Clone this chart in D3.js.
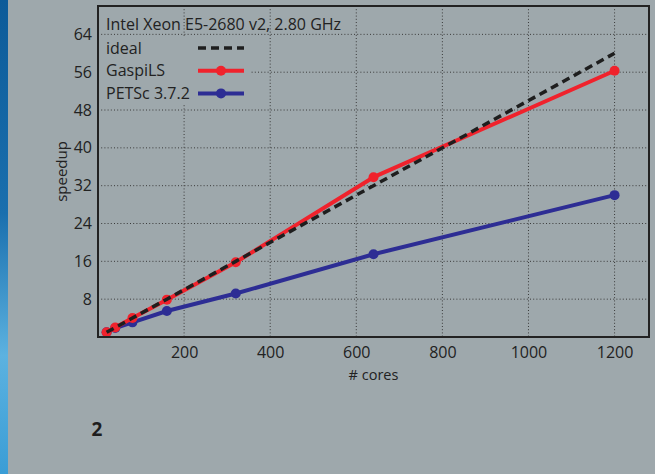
<!DOCTYPE html>
<html lang="en">
<head>
  <meta charset="utf-8">
  <title>speedup</title>
  <style>
    body { margin: 0; background: #9ea8ac; }
    svg { display: block; font-family: "Open Sans", sans-serif; }
  </style>
</head>
<body>
  <svg class="canvas" width="655" height="474"></svg>

  <script src="https://d3js.org/d3.v7.min.js"></script>
  <script>

// data
let cores = [20, 40, 80, 160, 320, 640, 1200]
let ideal = [1, 2, 4, 8, 16, 32, 60]
let gaspi = [1, 2, 4, 7.9, 15.8, 33.8, 56.3]
let petsc = [1, 1.9, 3.1, 5.5, 9.2, 17.5, 30]

let xTicks = [200, 400, 600, 800, 1000, 1200]
let yTicks = [8, 16, 24, 32, 40, 48, 56, 64]

let series = [
  {name: "ideal", values: ideal, color: "#1e1e1e", dash: "8,5", dots: false},
  {name: "GaspiLS", values: gaspi, color: "#f0222c", dash: null, dots: true},
  {name: "PETSc 3.7.2", values: petsc, color: "#2d2d94", dash: null, dots: true}
]

let bg = "#9ea8ac"
let ink = "#222"

let svg = d3.select(".canvas")

// blue strip on the left
let defs = svg.append("defs")
let grad = defs.append("linearGradient").attr("id", "strip")
  .attr("x1", 0).attr("y1", 0).attr("x2", 0).attr("y2", 1)
grad.append("stop").attr("offset", "0%").attr("stop-color", "#0d5b99")
grad.append("stop").attr("offset", "45%").attr("stop-color", "#1a6fae")
grad.append("stop").attr("offset", "75%").attr("stop-color", "#5cb2e0")
grad.append("stop").attr("offset", "100%").attr("stop-color", "#3a9dd6")
svg.append("rect").attr("x", 0).attr("y", 0).attr("width", 8).attr("height", 474)
  .attr("fill", "url(#strip)")

let m = {left: 98, top: 6, right: 649, bottom: 337}

let x = d3.scaleLinear().domain([0, 1280]).range([m.left, m.right])
let y = d3.scaleLinear().domain([0, 70]).range([m.bottom, m.top])

// grid
let grid = svg.append("g")
grid.selectAll("line.v").data(xTicks).enter().append("line")
  .attr("x1", d => x(d)).attr("x2", d => x(d))
  .attr("y1", m.top).attr("y2", m.bottom)
grid.selectAll("line.h").data(yTicks).enter().append("line")
  .attr("x1", m.left).attr("x2", m.right)
  .attr("y1", d => y(d)).attr("y2", d => y(d))
grid.selectAll("line")
  .attr("stroke", "#3a3a3a").attr("stroke-width", 1).attr("stroke-dasharray", "1,2.2")

// axes (labels only, frame drawn separately)
svg.append("g").attr("transform", "translate(0," + m.bottom + ")")
  .call(d3.axisBottom(x).tickValues(xTicks).tickFormat(d3.format("d")).tickSize(0).tickPadding(10))
svg.append("g").attr("transform", "translate(" + m.left + ",0)")
  .call(d3.axisLeft(y).tickValues(yTicks).tickSize(0).tickPadding(6))
svg.selectAll(".domain").remove()
svg.selectAll(".tick text").attr("font-size", 16).attr("fill", ink)
  .attr("font-family", "Open Sans, sans-serif")

svg.append("text")
  .attr("x", (m.left + m.right) / 2).attr("y", 380)
  .attr("text-anchor", "middle").attr("font-size", 14.5).attr("fill", ink)
  .text("# cores")

svg.append("text")
  .attr("transform", "translate(67," + ((m.top + m.bottom) / 2) + ") rotate(-90)")
  .attr("text-anchor", "middle").attr("font-size", 15).attr("fill", ink)
  .text("speedup")

// legend background hides the grid behind the entries
svg.append("rect").attr("x", m.left + 1).attr("y", 37)
  .attr("width", 152).attr("height", 68).attr("fill", bg)

// lines
let line = d3.line()
  .x((d, i) => x(cores[i]))
  .y(d => y(d))

let plot = svg.append("g")
series.slice().reverse().forEach(function(s) {
  plot.append("path")
    .attr("d", line(s.values))
    .attr("fill", "none")
    .attr("stroke", s.color)
    .attr("stroke-width", s.dots ? 4 : 3.5)
    .attr("stroke-dasharray", s.dash)
    .attr("stroke-linejoin", "round")
  if (s.dots) {
    plot.selectAll(null).data(s.values).enter().append("circle")
      .attr("cx", (d, i) => x(cores[i]))
      .attr("cy", d => y(d))
      .attr("r", 5)
      .attr("fill", s.color)
  }
})

// frame
svg.append("rect")
  .attr("x", m.left).attr("y", m.top)
  .attr("width", m.right - m.left).attr("height", m.bottom - m.top)
  .attr("fill", "none").attr("stroke", ink).attr("stroke-width", 2)

// legend
let leg = svg.append("g")
leg.append("text").attr("x", 106).attr("y", 30)
  .attr("font-size", 16).attr("fill", ink)
  .text("Intel Xeon E5-2680 v2, 2.80 GHz")

let rows = leg.selectAll("g.row").data(series).enter().append("g")
  .attr("transform", (d, i) => "translate(0," + (48 + i * 22.7) + ")")
rows.append("text").attr("x", 106).attr("dy", "0.35em")
  .attr("font-size", 16).attr("fill", ink)
  .text(d => d.name)
rows.append("line").attr("x1", 198).attr("x2", 244)
  .attr("stroke", d => d.color)
  .attr("stroke-width", d => d.dots ? 4 : 3.5)
  .attr("stroke-dasharray", d => d.dash)
rows.filter(d => d.dots).append("circle")
  .attr("cx", 221).attr("r", 5).attr("fill", d => d.color)

// panel number
svg.append("text").attr("x", 97).attr("y", 436)
  .attr("text-anchor", "middle").attr("font-size", 19).attr("font-weight", "bold")
  .attr("fill", "#1e1e1e").text("2")

  </script>
</body>
</html>
